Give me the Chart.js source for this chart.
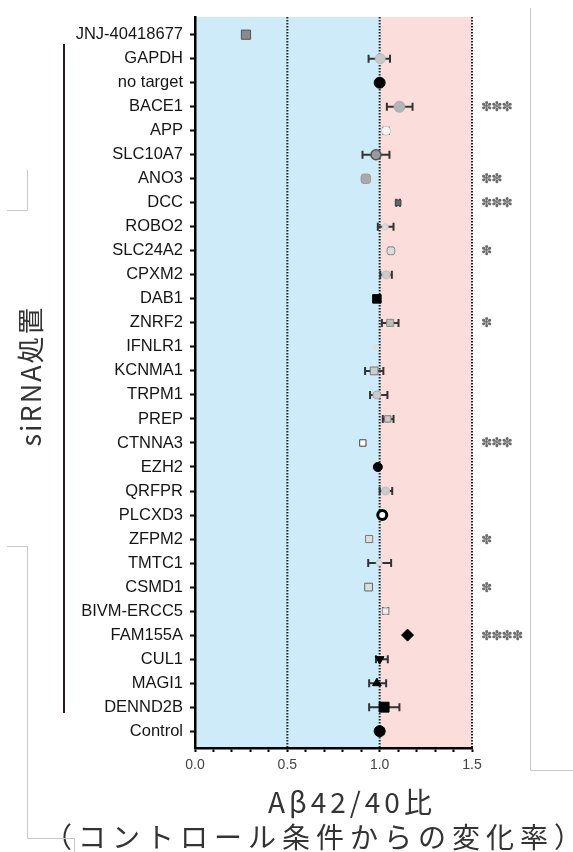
<!DOCTYPE html>
<html>
<head>
<meta charset="utf-8">
<script src="https://cdn.jsdelivr.net/npm/chart.js@4"></script>
<style>
  html, body { margin: 0; padding: 0; background: #fff; }
  canvas { display: block; }
</style>
</head>
<body>
<canvas id="chart" width="573" height="852"></canvas>
<script>
// rows, top to bottom
const targets = ['JNJ-40418677', 'GAPDH', 'no target', 'BACE1', 'APP', 'SLC10A7', 'ANO3', 'DCC',
    'ROBO2', 'SLC24A2', 'CPXM2', 'DAB1', 'ZNRF2', 'IFNLR1', 'KCNMA1', 'TRPM1', 'PREP', 'CTNNA3',
    'EZH2', 'QRFPR', 'PLCXD3', 'ZFPM2', 'TMTC1', 'CSMD1', 'BIVM-ERCC5', 'FAM155A', 'CUL1',
    'MAGI1', 'DENND2B', 'Control'];
const ratios = [0.276, 1.003, 1.0, 1.107, 1.035, 0.98, 0.925, 1.10,
    1.03, 1.061, 1.035, 0.985, 1.057, 0.981, 0.97, 0.985, 1.044, 0.909,
    0.99, 1.032, 1.014, 0.943, 0.997, 0.94, 1.032, 1.151, 1.0,
    0.985, 1.024, 1.0];
const errLow = [null, 0.94, null, 1.039, 1.02, 0.907, null, 1.09,
    0.99, 1.052, 1.003, null, 1.012, null, 0.921, 0.948, 1.017, null,
    null, 1.0, null, 0.935, 0.938, 0.934, 1.018, null, 0.98,
    0.943, 0.943, 0.98];
const errHigh = [null, 1.056, null, 1.178, 1.05, 1.053, null, 1.11,
    1.075, 1.07, 1.066, null, 1.102, null, 1.02, 1.042, 1.075, null,
    null, 1.068, null, 0.952, 1.062, 0.947, 1.046, null, 1.044,
    1.035, 1.107, 1.02];
const stars = ['', '', '', '***', '', '', '**', '***',
    '', '*', '', '', '*', '', '', '', '', '***',
    '', '', '', '*', '', '*', '', '****', '',
    '', '', ''];
const xTickValues = [0, 0.1, 0.2, 0.3, 0.4, 0.5, 0.6, 0.7, 0.8, 0.9, 1.0, 1.1, 1.2, 1.3, 1.4, 1.5];
const xTickLabels = ['0.0', '0.5', '1.0', '1.5'];
const guideLines = [0.5, 1.0, 1.5];

// marker look per row
const markStyle = ['rect', 'circle', 'circle', 'circle', 'circle', 'circle', 'rectRounded', 'rect',
    'circle', 'rectRounded', 'circle', 'rect', 'rect', 'circle', 'rect', 'circle', 'rect', 'rect',
    'circle', 'circle', 'circle', 'rect', 'circle', 'rect', 'rect', 'rectRot', 'triangle',
    'triangle', 'rect', 'circle'];
const markFill = ['#8a8a8a', '#c8c8c8', '#000', '#b5b5b5', '#f4f4f4', '#9a9a9a', '#aaa', '#666',
    '#ddd', '#ddd', '#ccc', '#000', '#bbb', '#e2e2e2', '#ccc', '#ccc', '#ccc', '#fff',
    '#000', '#ccc', '#fff', '#ddd', '#ddd', '#ddd', '#eee', '#000', '#000',
    '#000', '#000', '#000'];
const markEdge = ['#555', '#bbb', '#000', '#aaa', '#ccc', '#555', '#999', '#444',
    '#ccc', '#888', '#bbb', '#000', '#888', '#ddd', '#777', '#aaa', '#777', '#444',
    '#000', '#bbb', '#000', '#777', '#ccc', '#666', '#999', '#000', '#000',
    '#000', '#000', '#000'];
const markSize = [6.5, 5, 5.5, 5.5, 4.5, 5, 5.5, 4,
    3, 4.5, 4, 6, 5, 2.5, 5.5, 4, 4.5, 4.5,
    4.5, 4, 4.5, 5, 3, 5.5, 4.5, 6, 5,
    5, 7, 5.5];
const markRotate = targets.map(t => t === 'CUL1' ? 180 : 0);
const markBorder = targets.map(t => t === 'PLCXD3' ? 3 : (t === 'SLC10A7' ? 1.5 : 1));

const bandPlugin = {
    id: 'bands',
    beforeDraw(chart) {
        const ctx = chart.ctx;
        const a = chart.chartArea;
        const x = chart.scales.x;
        const x1 = x.getPixelForValue(1.0);
        ctx.save();
        ctx.fillStyle = '#cdebf8';
        ctx.fillRect(a.left, a.top, x1 - a.left, a.bottom - a.top);
        ctx.fillStyle = '#fbdedc';
        ctx.fillRect(x1, a.top, a.right - x1, a.bottom - a.top);
        ctx.strokeStyle = '#222';
        ctx.lineWidth = 2;
        ctx.setLineDash([1.5, 1.5]);
        guideLines.forEach(v => {
            const px = x.getPixelForValue(v);
            ctx.beginPath();
            ctx.moveTo(px, a.top);
            ctx.lineTo(px, a.bottom);
            ctx.stroke();
        });
        ctx.restore();
    }
};

const errorBarPlugin = {
    id: 'errorBars',
    beforeDatasetsDraw(chart) {
        const ctx = chart.ctx;
        const x = chart.scales.x;
        const y = chart.scales.y;
        ctx.save();
        ctx.strokeStyle = '#333';
        ctx.lineWidth = 2;
        targets.forEach((t, i) => {
            if (errLow[i] === null) return;
            const py = y.getPixelForValue(i);
            const lo = x.getPixelForValue(errLow[i]);
            const hi = x.getPixelForValue(errHigh[i]);
            ctx.beginPath();
            ctx.moveTo(lo, py);
            ctx.lineTo(hi, py);
            ctx.moveTo(lo, py - 4);
            ctx.lineTo(lo, py + 4);
            ctx.moveTo(hi, py - 4);
            ctx.lineTo(hi, py + 4);
            ctx.stroke();
        });
        ctx.restore();
    }
};

const textPlugin = {
    id: 'texts',
    afterDraw(chart) {
        const ctx = chart.ctx;
        const y = chart.scales.y;
        ctx.save();

        // significance stars
        ctx.fillStyle = '#6a6a6a';
        ctx.font = '13.5px "DejaVu Sans"';
        ctx.textAlign = 'left';
        ctx.textBaseline = 'middle';
        ctx.letterSpacing = '-1px';
        stars.forEach((s, i) => {
            if (!s) return;
            ctx.fillText('✽'.repeat(s.length), 481, y.getPixelForValue(i) + 1);
        });

        // axis titles
        ctx.fillStyle = '#333';
        ctx.textBaseline = 'alphabetic';
        ctx.font = '28px "Noto Sans CJK JP"';
        ctx.letterSpacing = '4px';
        ctx.textAlign = 'center';
        ctx.fillText('Aβ42/40比', 352, 813);
        ctx.textAlign = 'left';
        ctx.letterSpacing = '6px';
        ctx.fillText('（コントロール条件からの変化率）', 44, 848);

        ctx.save();
        ctx.translate(41, 376);
        ctx.rotate(-Math.PI / 2);
        ctx.textAlign = 'center';
        ctx.letterSpacing = '2px';
        ctx.font = '27px "Noto Sans CJK JP"';
        ctx.fillText('siRNA処置', 0, 0);
        ctx.restore();

        // siRNA group bracket
        ctx.strokeStyle = '#2a1c1c';
        ctx.lineWidth = 2;
        ctx.beginPath();
        ctx.moveTo(64, 44);
        ctx.lineTo(64, 713);
        ctx.stroke();

        // faint frame lines
        ctx.strokeStyle = '#c8c8c8';
        ctx.lineWidth = 1;
        ctx.beginPath();
        ctx.moveTo(27.5, 170);
        ctx.lineTo(27.5, 210.5);
        ctx.lineTo(7, 210.5);
        ctx.moveTo(7, 546.5);
        ctx.lineTo(27.5, 546.5);
        ctx.lineTo(27.5, 838.5);
        ctx.lineTo(74.5, 838.5);
        ctx.lineTo(74.5, 852);
        ctx.moveTo(530.5, 8);
        ctx.lineTo(530.5, 770.5);
        ctx.lineTo(573, 770.5);
        ctx.stroke();
        ctx.restore();
    }
};

new Chart(document.getElementById('chart'), {
    type: 'scatter',
    data: {
        datasets: [{
            data: ratios.map((v, i) => ({ x: v, y: i })),
            pointStyle: markStyle,
            backgroundColor: markFill,
            borderColor: markEdge,
            pointRadius: markSize,
            pointRotation: markRotate,
            borderWidth: markBorder
        }]
    },
    options: {
        responsive: false,
        animation: false,
        layout: { padding: { top: 10, right: 101, left: 0, bottom: 0 } },
        plugins: {
            legend: { display: false },
            tooltip: { enabled: false }
        },
        scales: {
            x: {
                type: 'linear',
                min: 0,
                max: 1.5,
                afterBuildTicks: axis => { axis.ticks = xTickValues.map(v => ({ value: v })); },
                afterFit: axis => { axis.height = 104; },
                ticks: {
                    color: '#444',
                    font: { family: 'Liberation Sans', size: 14 },
                    padding: 5,
                    maxRotation: 0,
                    autoSkip: false,
                    callback: v => {
                        const k = Math.round(v * 2);
                        return Math.abs(v * 2 - k) < 1e-6 ? xTickLabels[k] : '';
                    }
                },
                grid: { drawOnChartArea: false, tickLength: 4, tickWidth: 2, tickColor: '#000' },
                border: { display: true, color: '#000', width: 2.5 }
            },
            y: {
                type: 'linear',
                reverse: true,
                min: -0.74,
                max: 29.7,
                afterBuildTicks: axis => { axis.ticks = targets.map((t, i) => ({ value: i })); },
                afterFit: axis => { axis.width = 195; },
                ticks: {
                    color: '#151515',
                    font: { family: 'Liberation Sans', size: 16.5 },
                    padding: 7,
                    autoSkip: false,
                    callback: v => targets[v]
                },
                grid: { drawOnChartArea: false, tickLength: 5, tickWidth: 2, tickColor: '#000' },
                border: { display: true, color: '#000', width: 2.5 }
            }
        }
    },
    plugins: [bandPlugin, errorBarPlugin, textPlugin]
});
</script>
</body>
</html>
